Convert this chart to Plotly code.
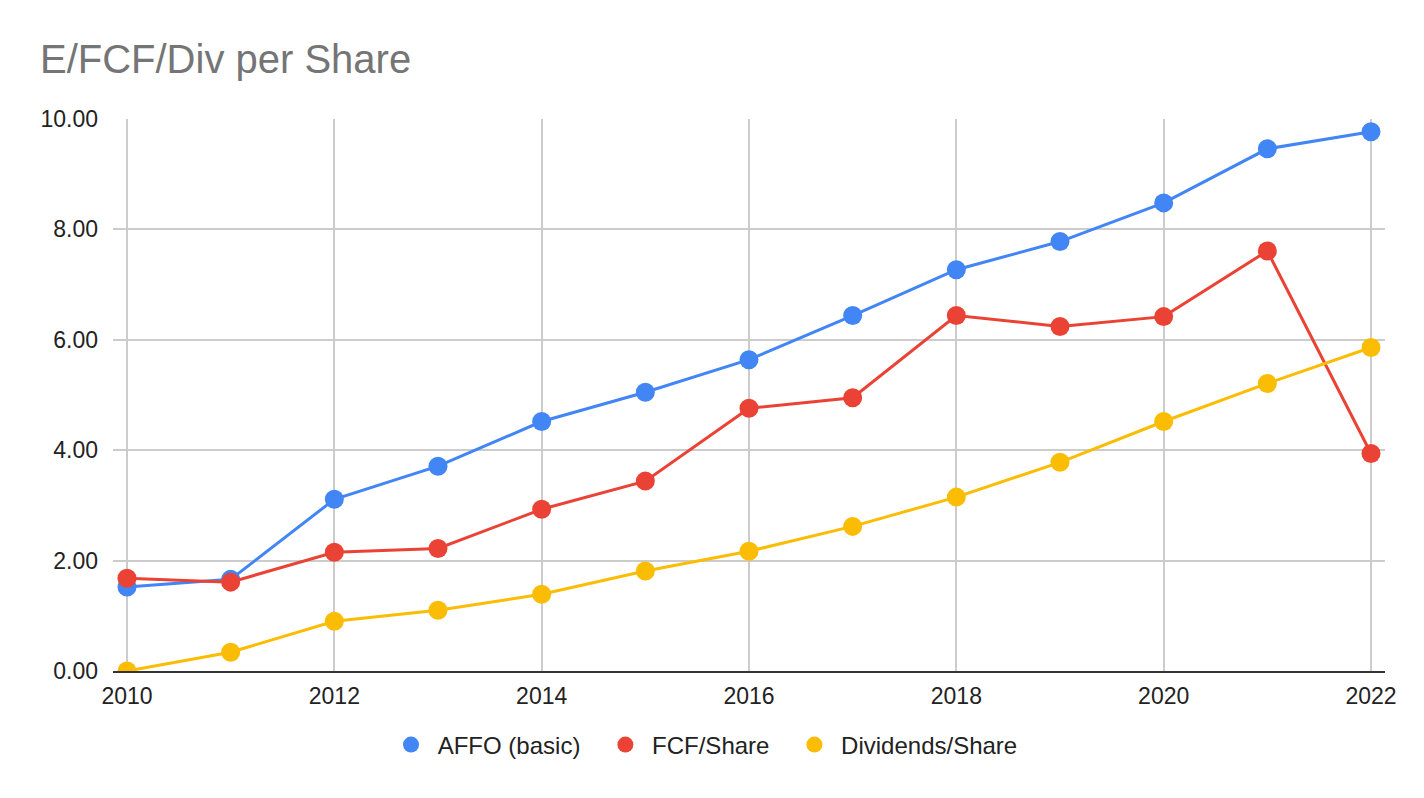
import plotly.graph_objects as go

years = list(range(2010, 2023))
affo_basic = [1.52, 1.66, 3.11, 3.71, 4.52, 5.05, 5.64, 6.44, 7.27, 7.78, 8.48, 9.46, 9.77]
fcf_share = [1.68, 1.61, 2.15, 2.22, 2.93, 3.44, 4.76, 4.95, 6.44, 6.24, 6.42, 7.61, 3.94]
div_share = [0.00, 0.34, 0.90, 1.10, 1.39, 1.81, 2.17, 2.62, 3.15, 3.78, 4.52, 5.21, 5.86]

series = [
    ("AFFO (basic)", affo_basic, "#4285F4"),
    ("FCF/Share", fcf_share, "#EA4335"),
    ("Dividends/Share", div_share, "#FBBC04"),
]

NBSP = "\u00a0"

fig = go.Figure()
for name, values, color in series:
    fig.add_trace(go.Scatter(
        x=years, y=values, name=name, mode="lines+markers",
        line=dict(color=color, width=3),
        marker=dict(color=color, size=19),
        showlegend=False,
    ))
# legend entries: dots only, like the sheets chart; nbsp padding widens the gaps
for i, (name, values, color) in enumerate(series):
    label = NBSP + name + (NBSP * 3 if i < len(series) - 1 else "")
    fig.add_trace(go.Scatter(
        x=[None], y=[None], name=label, mode="markers",
        marker=dict(color=color, size=22),
    ))

# page body has an 8px margin, so the figure is a bit smaller than the window
fig.update_layout(
    width=1408, height=782,
    paper_bgcolor="white", plot_bgcolor="white",
    font=dict(family="Liberation Sans, Arial, sans-serif", size=23, color="#222"),
    title=dict(text="E/FCF/Div per Share", x=0.0227, xanchor="left", y=0.935, yanchor="middle",
               font=dict(size=40, color="#757575")),
    margin=dict(l=105, r=31, t=111, b=119),
    legend=dict(orientation="h", x=0.467, xanchor="center", y=-0.134, yanchor="middle",
                font=dict(size=24, color="#222")),
    showlegend=True,
)
fig.update_xaxes(range=[2009.865, 2022.135], dtick=2, tick0=2010, showgrid=True, gridcolor="#cccccc",
                 gridwidth=1.5, showline=True, linecolor="#333333", linewidth=2,
                 ticks="", zeroline=False, ticklabelstandoff=3, tickfont=dict(size=23, color="#222"))
fig.update_yaxes(range=[0, 10], dtick=2, tickformat=".2f", showgrid=True, gridcolor="#cccccc",
                 gridwidth=1.5, zeroline=False, ticks="", ticklabelstandoff=14,
                 tickfont=dict(size=23, color="#222"))

fig.write_html("out.html")
